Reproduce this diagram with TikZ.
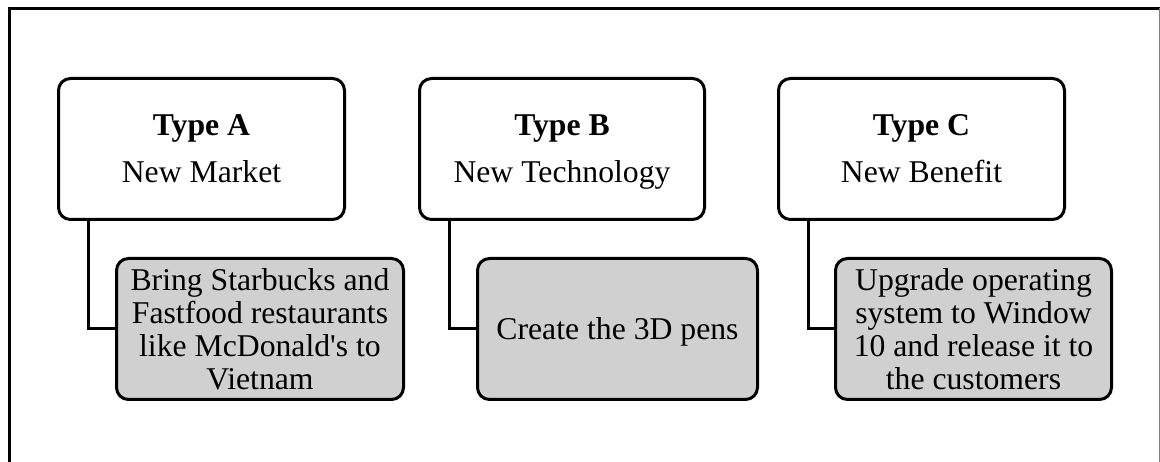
\documentclass[tikz,border=0pt]{standalone}
\usepackage{fontspec}
\setmainfont{Liberation Serif}
\usetikzlibrary{calc}
\definecolor{childgray}{RGB}{208,208,208}
\newcommand{\nodepth}[1]{\raisebox{0pt}[\height][0pt]{#1}}
\begin{document}
\begin{tikzpicture}[x=1pt,y=-1pt,
  every node/.style={font=\fontsize{31.7}{33}\selectfont, inner sep=0pt, align=center},
  parentbox/.style={draw=black, line width=3pt, rounded corners=12pt, fill=white,
    minimum height=141pt},
  childbox/.style={draw=black, line width=3pt, rounded corners=12pt, fill=childgray,
    minimum height=141pt},
  link/.style={draw=black, line width=3pt}]
\useasboundingbox (0,0) rectangle (1160,462);
% outer frame
\draw[line width=3pt] (9.5,480) |- (1161,8.5);
\draw[gray, line width=1pt] (1159.5,8.5) -- (1159.5,462);
% parents
\node[parentbox, minimum width=286pt] (pa) at (201.5,149) {\textbf{Type A}\\[14pt]New Market};
\node[parentbox, minimum width=285pt] (pb) at (562,149) {\textbf{Type B}\\[14pt]\nodepth{New Technology}};
\node[parentbox, minimum width=286pt] (pc) at (921.5,149) {\textbf{Type C}\\[14pt]New Benefit};
% children
\node[childbox, minimum width=287pt] (ca) at (260,329) {Bring Starbucks and\\Fastfood restaurants\\like McDonald\textquotesingle s to\\Vietnam};
\node[childbox, minimum width=280pt] (cb) at (617.5,329) {\nodepth{Create the 3D pens}};
\node[childbox, minimum width=276pt] (cc) at (973.5,329) {Upgrade operating\\system to Window\\10 and release it to\\the customers};
% connectors
\draw[link] ($(pa.south west)+(31,0)$) |- (ca.west);
\draw[link] ($(pb.south west)+(31,0)$) |- (cb.west);
\draw[link] ($(pc.south west)+(31,0)$) |- (cc.west);
\end{tikzpicture}
\end{document}
